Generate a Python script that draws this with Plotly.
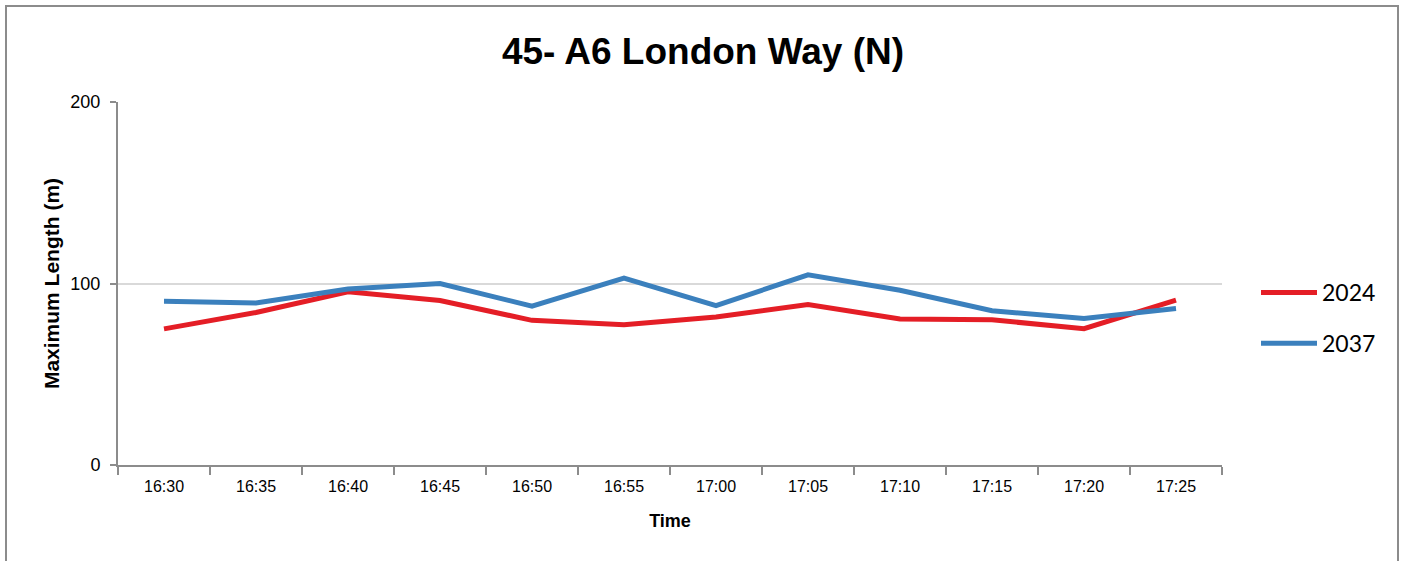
import plotly.graph_objects as go

times = ["16:30", "16:35", "16:40", "16:45", "16:50", "16:55",
         "17:00", "17:05", "17:10", "17:15", "17:20", "17:25"]
len_2024 = [75.0, 84.0, 95.4, 90.6, 79.7, 77.3, 81.6, 88.4, 80.5, 80.0, 75.1, 90.8]
len_2037 = [90.2, 89.3, 97.0, 100.0, 87.5, 103.0, 87.8, 104.8, 96.3, 85.0, 80.7, 86.2]
y_ticks = [0, 100, 200]

W, H = 1405, 561
L, T = 118, 102
pw, ph = 1104, 363
R, B = W - L - pw, H - T - ph


def px2x(p):  # page pixel -> paper x
    return (p - L) / pw


def px2y(p):  # page pixel -> paper y
    return (T + ph - p) / ph


fig = go.Figure()
fig.add_trace(go.Scatter(x=times, y=len_2024, mode="lines", name="2024",
                         legendgroup="a",
                         line=dict(color="#E41E26", width=5)))
fig.add_trace(go.Scatter(x=times, y=len_2037, mode="lines", name="2037",
                         legendgroup="b",
                         line=dict(color="#3B80BD", width=5)))

fig.add_shape(type="rect", xref="paper", yref="paper",
              x0=px2x(6), x1=px2x(1398), y0=px2y(620), y1=px2y(6),
              line=dict(color="#8C8C8C", width=2), fillcolor="rgba(0,0,0,0)",
              layer="below")

fig.update_layout(
    width=W, height=H,
    margin=dict(l=L, r=R, t=T, b=B),
    paper_bgcolor="white", plot_bgcolor="white",
    title=dict(text="<b>45- A6 London Way (N)</b>", x=703 / W, xref="container",
               xanchor="center", y=1 - 51 / H, yanchor="middle",
               font=dict(family="Liberation Sans, Arial", size=37, color="black")),
    font=dict(family="Liberation Sans, Arial", color="black"),
    showlegend=True,
    legend=dict(x=px2x(1256), xanchor="left", y=px2y(318), yanchor="middle",
                font=dict(family="Lato, Liberation Sans", size=23, color="black"),
                tracegroupgap=18, itemwidth=56, bgcolor="rgba(0,0,0,0)"),
    xaxis=dict(
        type="category", tickson="boundaries", ticks="outside", ticklen=8,
        tickcolor="#8C8C8C", tickwidth=2,
        showline=True, linecolor="#8C8C8C", linewidth=2,
        showgrid=False,
        tickfont=dict(size=16, color="black"), ticklabelstandoff=6,
        title=dict(text="<b>Time</b>", font=dict(size=18, color="black"), standoff=20),
        range=[-0.5, len(times) - 0.5],
    ),
    yaxis=dict(
        range=[0, 200], tickvals=y_ticks, ticks="outside", ticklen=6,
        tickcolor="#8C8C8C", tickwidth=2,
        showline=True, linecolor="#8C8C8C", linewidth=2,
        showgrid=True, gridcolor="#D9D9D9", gridwidth=1.5,
        zeroline=False,
        tickfont=dict(size=18, color="black"), ticklabelstandoff=6,
        title=dict(text="<b>Maximum Length (m)</b>", font=dict(size=21, color="black"), standoff=5),
    ),
)

fig.write_html("out.html",
               config={"displayModeBar": False},
               post_script="document.body.style.margin='0';document.body.style.overflow='hidden';")
